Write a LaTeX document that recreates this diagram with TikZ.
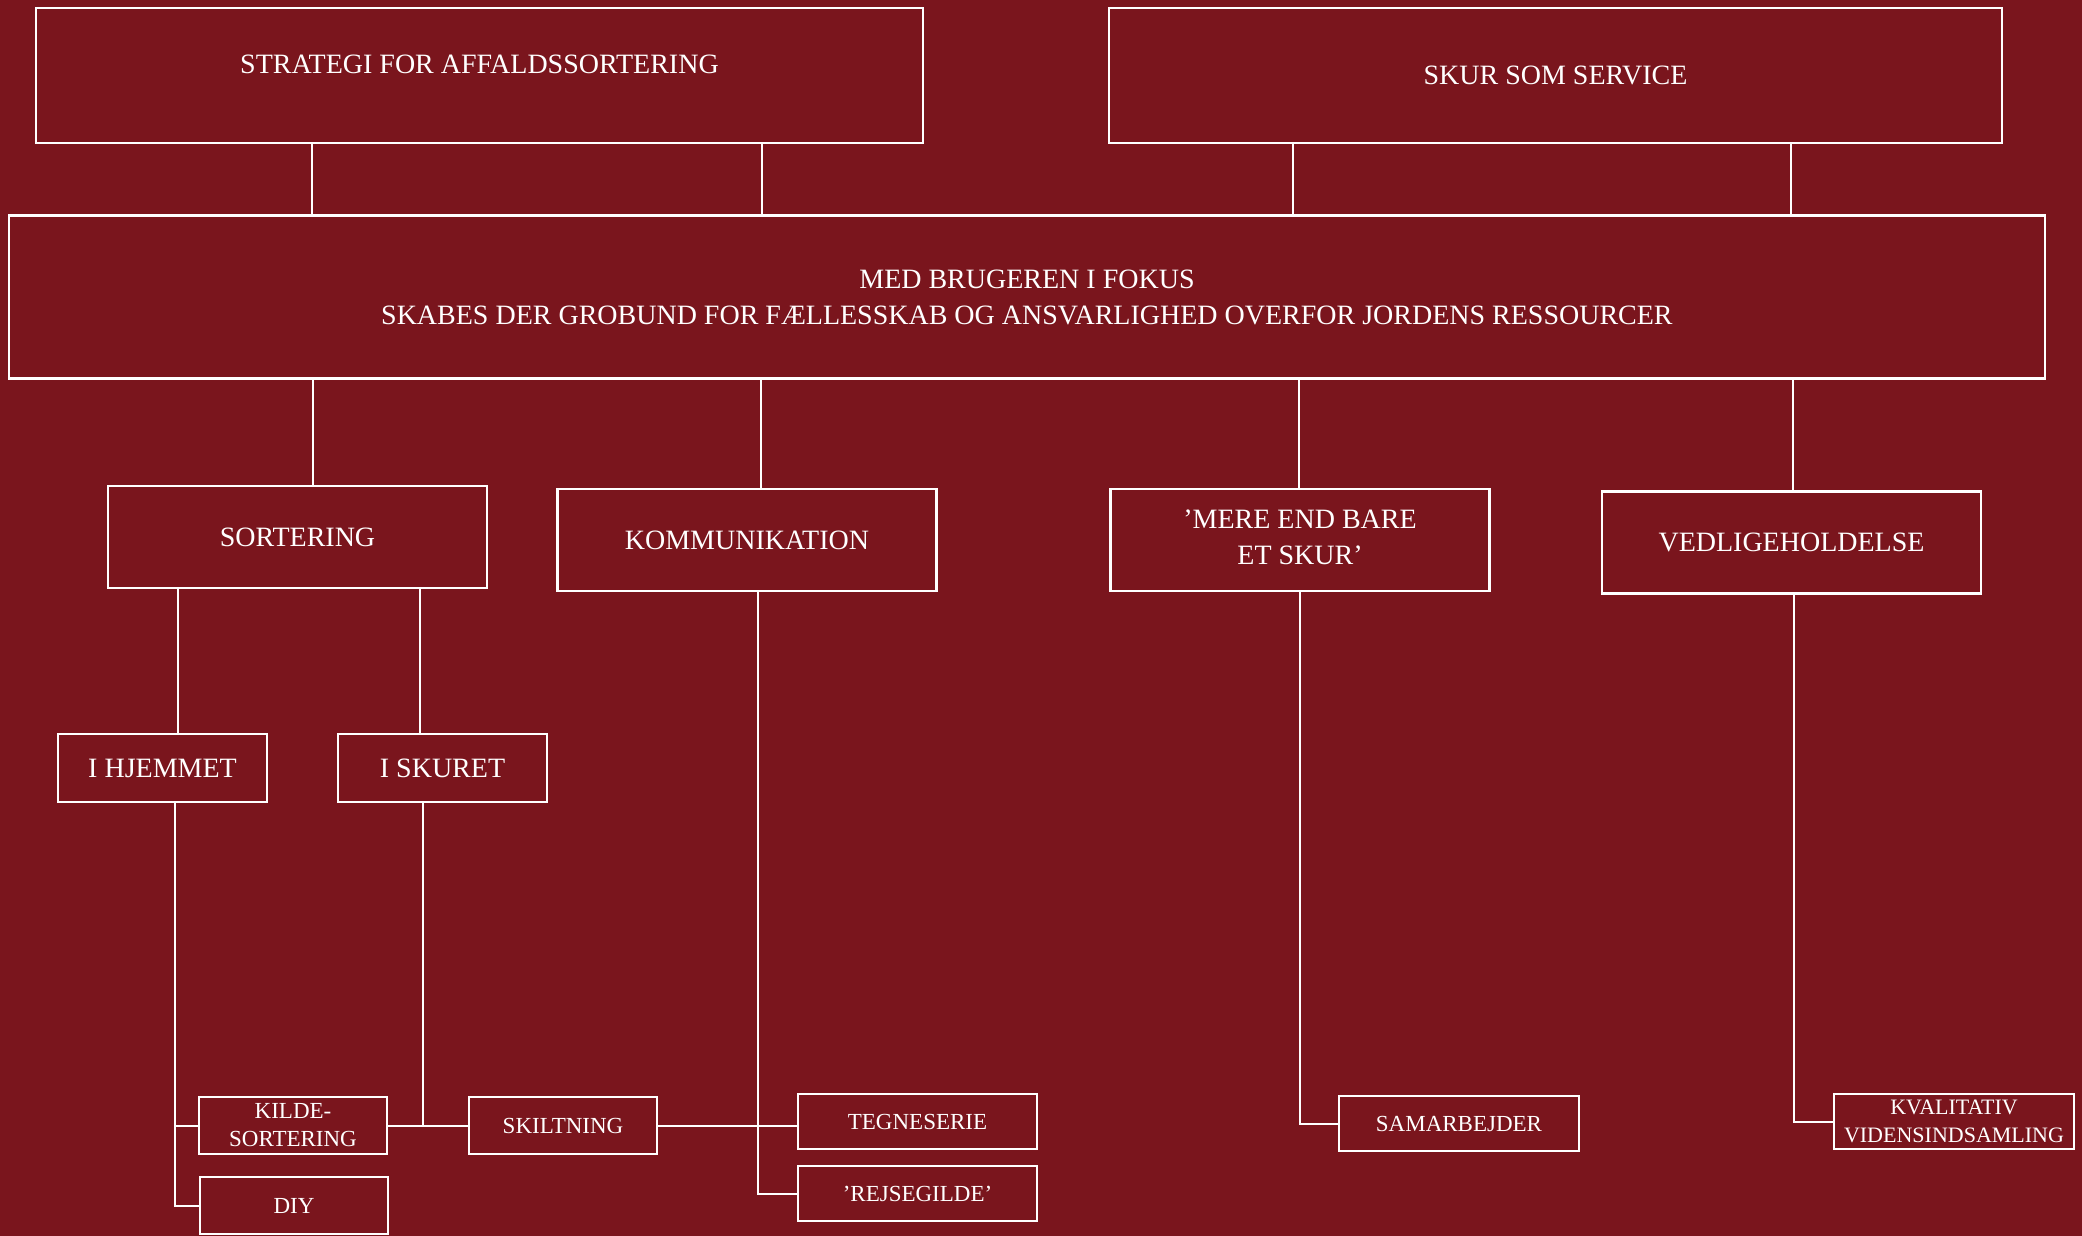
\documentclass[tikz,border=0pt]{standalone}
\usepackage{fontspec}
\setmainfont{Liberation Serif}
\usepackage{tikz}
\usetikzlibrary{positioning}

\definecolor{bgred}{RGB}{122,21,29}
\newcommand{\bigtxt}{\fontsize{28}{36}\selectfont}
\newcommand{\smalltxt}{\fontsize{23}{28}\selectfont}

\begin{document}
\begin{tikzpicture}[
    x=1pt, y=-1pt,
    block/.style={draw=white, line width=2.2pt, text=white, align=center, inner sep=0pt, font=\bigtxt},
    midblock/.style={block, minimum width=379pt, minimum height=102pt},
    subblock/.style={block, minimum width=209pt, minimum height=68pt},
    leaf/.style={block, font=\smalltxt, minimum width=188pt, minimum height=57pt},
    wideleaf/.style={leaf, minimum width=240pt, minimum height=55pt},
    link/.style={draw=white, line width=2pt}
]
    % Background
    \fill[bgred] (0,0) rectangle (2082,1236);
    \useasboundingbox (0,0) rectangle (2082,1236);

    % Node placement
    \node (strategi) [block, minimum width=887pt, minimum height=135pt, text depth=22pt] at (479.5,75.5) {STRATEGI FOR AFFALDSSORTERING};
    \node (skur) [block, minimum width=893pt, minimum height=135pt] at (1555.5,75.5) {SKUR SOM SERVICE};
    \node (fokus) [block, minimum width=2036pt, minimum height=163pt] at (1027,297) {MED BRUGEREN I FOKUS\\SKABES DER GROBUND FOR FÆLLESSKAB OG ANSVARLIGHED OVERFOR JORDENS RESSOURCER};

    \node (sortering) [midblock] at (297.5,537) {SORTERING};
    \node (kommunikation) [midblock] at (747,540) {KOMMUNIKATION};
    \node (mere) [midblock, text depth=6pt] at (1300,540) {’MERE END BARE\\ET SKUR’};
    \node (vedlige) [midblock] at (1791.5,542.5) {VEDLIGEHOLDELSE};

    \node (hjemmet) [subblock] at (162.5,768) {I HJEMMET};
    \node (skuret) [subblock] at (442.5,768) {I SKURET};

    \node (kilde) [leaf] at (293,1125.5) {KILDE-\\SORTERING};
    \node (diy) [leaf, below=21pt of kilde, xshift=1pt] {DIY};
    \node (skiltning) [leaf] at (563,1125.5) {SKILTNING};
    \node (tegneserie) [wideleaf, minimum width=239pt] at (917.5,1121.5) {TEGNESERIE};
    \node (rejsegilde) [wideleaf, minimum width=239pt, below=15pt of tegneserie] {’REJSEGILDE’};
    \node (samarbejder) [wideleaf] at (1459,1123.5) {SAMARBEJDER};
    \node (kvalitativ) [wideleaf, font=\fontsize{22}{28}\selectfont] at (1954,1121.5) {KVALITATIV\\VIDENSINDSAMLING};

    % Top level
    \draw[link] ([xshift=-167.5pt]strategi.south) coordinate (t1) -- (t1 |- fokus.north);
    \draw[link] ([xshift=282.5pt]strategi.south) coordinate (t2) -- (t2 |- fokus.north);
    \draw[link] ([xshift=-262.5pt]skur.south) coordinate (t3) -- (t3 |- fokus.north);
    \draw[link] ([xshift=235.5pt]skur.south) coordinate (t4) -- (t4 |- fokus.north);

    % Focus areas
    \draw[link] ([xshift=15.5pt]sortering.north) coordinate (f1) -- (f1 |- fokus.south);
    \draw[link] ([xshift=14pt]kommunikation.north) coordinate (f2) -- (f2 |- fokus.south);
    \draw[link] ([xshift=-1pt]mere.north) coordinate (f3) -- (f3 |- fokus.south);
    \draw[link] ([xshift=1.5pt]vedlige.north) coordinate (f4) -- (f4 |- fokus.south);

    % Sortering
    \draw[link] ([xshift=15.5pt]hjemmet.north) coordinate (s1) -- (s1 |- sortering.south);
    \draw[link] ([xshift=-22.5pt]skuret.north) coordinate (s2) -- (s2 |- sortering.south);
    \draw[link] ([xshift=12.5pt]hjemmet.south) coordinate (h1) |- (diy.west);
    \draw[link] (h1 |- kilde.west) -- (kilde.west);
    \draw[link] (kilde.east) -- (skiltning.west);
    \draw[link] ([xshift=-19.5pt]skuret.south) coordinate (k1) -- (k1 |- kilde.east);

    % Kommunikation
    \draw[link] ([xshift=11pt]kommunikation.south) coordinate (c1) |- (rejsegilde.west);
    \draw[link] (skiltning.east) -- (skiltning.east -| tegneserie.west);

    % Mere end bare et skur, vedligeholdelse
    \draw[link] (mere.south) |- (samarbejder.west);
    \draw[link] ([xshift=2.5pt]vedlige.south) |- (kvalitativ.west);

\end{tikzpicture}
\end{document}
